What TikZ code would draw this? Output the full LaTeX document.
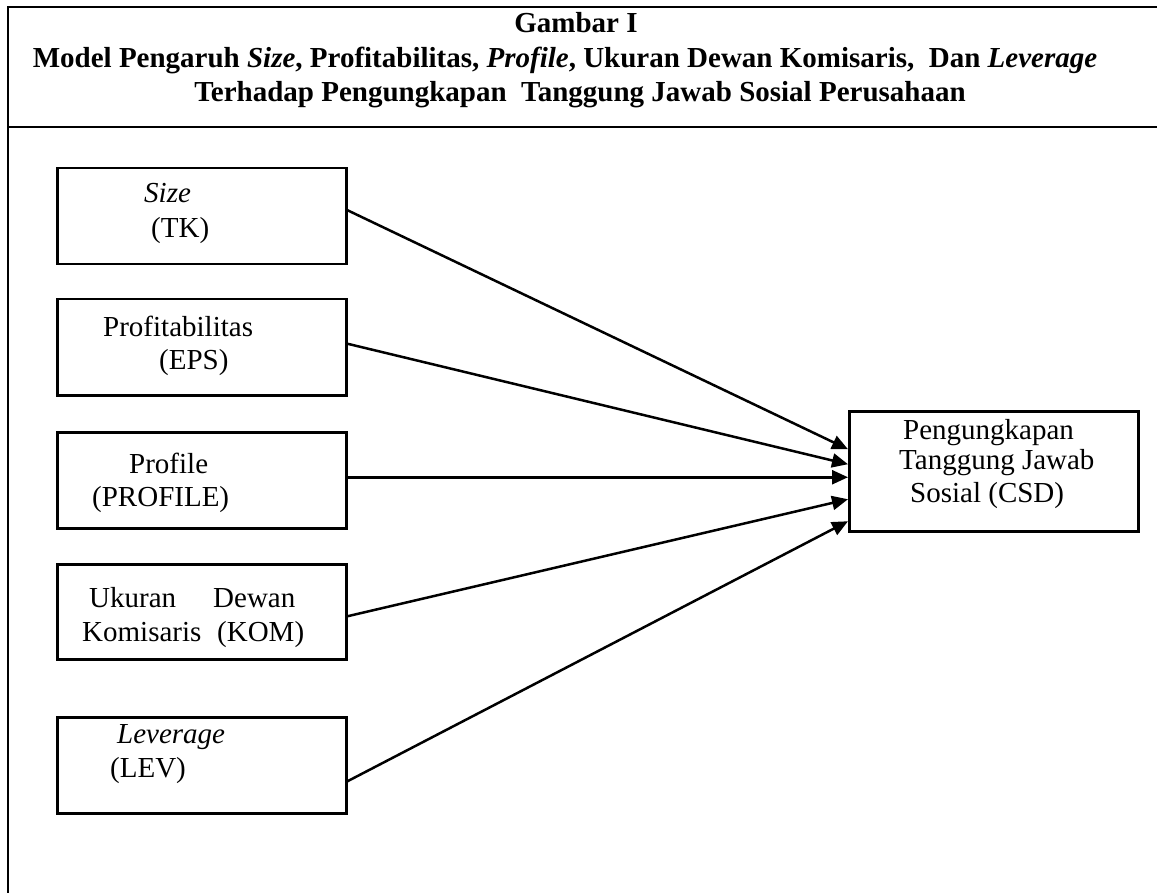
\documentclass[tikz,border=0pt]{standalone}
\usepackage{fontspec}
\setmainfont{Liberation Serif}
\usetikzlibrary{arrows.meta}
\newcommand{\bodyfnt}{\fontsize{29}{32}\selectfont}
\newcommand{\headfnt}{\fontsize{29}{35}\selectfont\bfseries}
\begin{document}
\begin{tikzpicture}[x=1pt,y=-1pt,
  varbox/.style={draw, line width=2.5pt, minimum width=289pt, minimum height=96pt, inner sep=0pt, anchor=north west},
  lbl/.style={anchor=base west, inner sep=0pt, font=\bodyfnt},
  hdr/.style={anchor=base, inner sep=0pt, font=\headfnt},
  frame/.style={line width=2pt},
  conn/.style={line width=2.5pt, -{Triangle[length=16pt,width=14pt]}}]
\useasboundingbox (0,0) rectangle (1157,893);
% frame
\draw[frame] (1157,7) -- (8,7) -- (8,893);
\draw[frame] (8,127) -- (1157,127);
% header
\node[hdr] (h1) at (576,33) {Gambar I};
\node[hdr] (h2) at (565,68) {Model Pengaruh \textit{Size}, Profitabilitas, \textit{Profile}, Ukuran Dewan Komisaris,\ \ Dan \textit{Leverage}};
\node[hdr] (h3) at (580,102) {Terhadap Pengungkapan\ \ Tanggung Jawab Sosial Perusahaan};
% boxes
\node[varbox] (tk) at (56,167) {};
\node[varbox] (eps) at (56,298) {};
\node[varbox] (prof) at (56,431) {};
\node[varbox, minimum height=95pt] (kom) at (56,563) {};
\node[varbox] (lev) at (56,716) {};
\node[varbox, minimum height=120pt] (csd) at (848,410) {};
% labels
\node[lbl] (tk1) at (144,203) {\itshape Size};
\node[lbl] (tk2) at (151,238) {(TK)};
\node[lbl] (eps1) at (103,337) {Profitabilitas};
\node[lbl] (eps2) at (159,370) {(EPS)};
\node[lbl] (prof1) at (129,473) {Profile};
\node[lbl] (prof2) at (92,506) {(PROFILE)};
\node[lbl] (kom1) at (89,607) {Ukuran};
\node[lbl] (kom2) at (213,607) {Dewan};
\node[lbl] (kom3) at (82,641) {Komisaris};
\node[lbl] (kom4) at (217,641) {(KOM)};
\node[lbl] (lev1) at (117,743) {\itshape Leverage};
\node[lbl] (lev2) at (110,777) {(LEV)};
\node[lbl] (csd1) at (903,439) {Pengungkapan};
\node[lbl] (csd2) at (899,469) {Tanggung Jawab};
\node[lbl] (csd3) at (910,502) {Sosial (CSD)};
% connectors
\draw[conn] ([yshift=6pt]tk.east) -- ([yshift=22pt]csd.west);
\draw[conn] ([yshift=3.5pt]eps.east) -- ([yshift=7pt]csd.west);
\draw[conn] ([yshift=3pt]prof.east) -- ([yshift=-6pt]csd.west);
\draw[conn] ([yshift=-4.5pt]kom.east) -- ([yshift=-28pt]csd.west);
\draw[conn] ([yshift=-16pt]lev.east) -- ([yshift=-50pt]csd.west);
\end{tikzpicture}
\end{document}
